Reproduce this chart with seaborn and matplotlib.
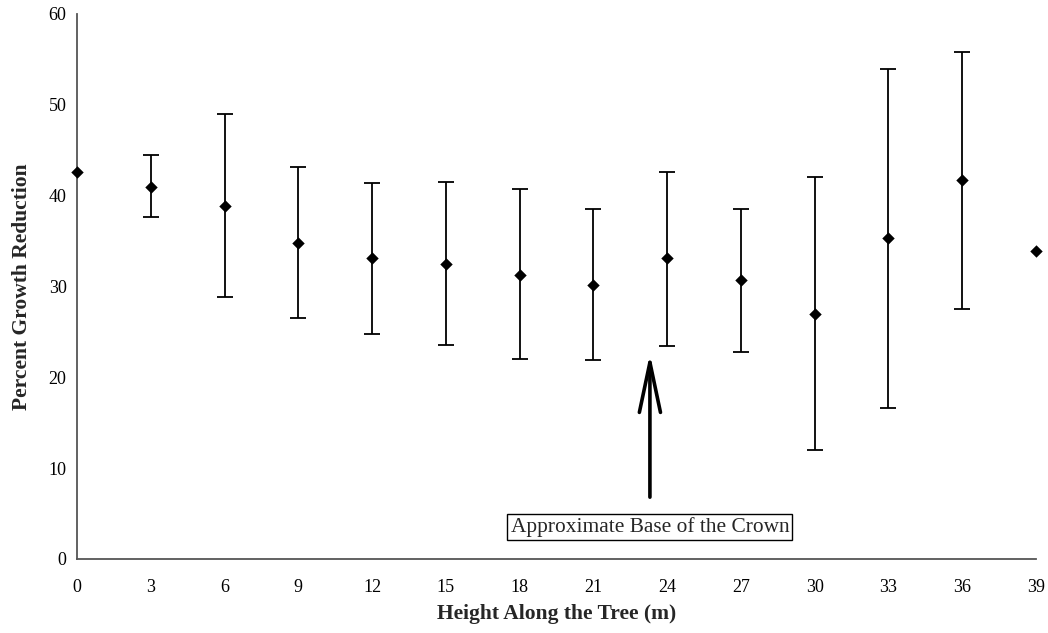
import numpy as np
import pandas as pd
import matplotlib
matplotlib.use("Agg")
import matplotlib.pyplot as plt
import seaborn as sns

# Data
heights = [0, 3, 6, 9, 12, 15, 18, 21, 24, 27, 30, 33, 36, 39]
mean_reduction = [42.6, 41.0, 38.9, 34.8, 33.1, 32.5, 31.3, 30.2, 33.1, 30.7, 27.0, 35.3, 41.7, 33.9]
upper = [np.nan, 44.45, 49.0, 43.1, 41.4, 41.5, 40.7, 38.5, 42.6, 38.5, 42.1, 53.9, 55.8, np.nan]
lower = [np.nan, 37.6, 28.8, 26.5, 24.8, 23.6, 22.0, 21.9, 23.4, 22.8, 12.0, 16.6, 27.5, np.nan]
x_ticks = list(range(0, 40, 3))
y_ticks = [0, 10, 20, 30, 40, 50, 60]
annotation_text = "Approximate Base of the Crown"
crown_base_x = 23.3

df = pd.DataFrame({"h": heights, "m": mean_reduction, "up": upper, "lo": lower})

sns.set_style("white")
plt.rcParams["font.family"] = ["Liberation Serif", "DejaVu Serif"]

fig = plt.figure(figsize=(10.48, 6.33), dpi=100)
ax = fig.add_axes([0.0735, 0.117, 0.915, 0.861])

m = df["up"].notna()
ax.errorbar(df.loc[m, "h"], df.loc[m, "m"],
            yerr=[df.loc[m, "m"] - df.loc[m, "lo"], df.loc[m, "up"] - df.loc[m, "m"]],
            fmt="none", ecolor="black", elinewidth=1.3, capsize=5.5, capthick=1.3, zorder=2)
sns.scatterplot(data=df, x="h", y="m", marker="D", s=40, color="black",
                edgecolor="black", linewidth=0, ax=ax, zorder=3, clip_on=False)

ax.set_xlim(0, 39)
ax.set_ylim(0, 60)
ax.set_xticks(x_ticks)
ax.set_yticks(y_ticks)
ax.tick_params(axis="x", direction="inout", length=7, width=1, labelsize=13, pad=11, colors="black")
ax.tick_params(axis="y", direction="inout", length=7, width=1, labelsize=13, pad=4, colors="black")
for s in ["top", "right"]:
    ax.spines[s].set_visible(False)
for s in ["left", "bottom"]:
    ax.spines[s].set_color("#555555")
    ax.spines[s].set_linewidth(1.3)

ax.set_xlabel("Height Along the Tree (m)", fontsize=15.5, fontweight="bold", labelpad=6)
ax.set_ylabel("Percent Growth Reduction", fontsize=15.5, fontweight="bold", labelpad=12)

ax.annotate("", xy=(crown_base_x, 22.6), xytext=(crown_base_x, 6.8),
            arrowprops=dict(arrowstyle="->,head_length=1.8,head_width=0.38",
                            mutation_scale=20, color="black", lw=2.6, shrinkA=0, shrinkB=0))
ax.text(crown_base_x, 3.5, annotation_text, ha="center", va="center", fontsize=15.4,
        bbox=dict(boxstyle="square,pad=0.15", facecolor="white", edgecolor="black", linewidth=1))

fig.savefig("out.png", dpi=100)
